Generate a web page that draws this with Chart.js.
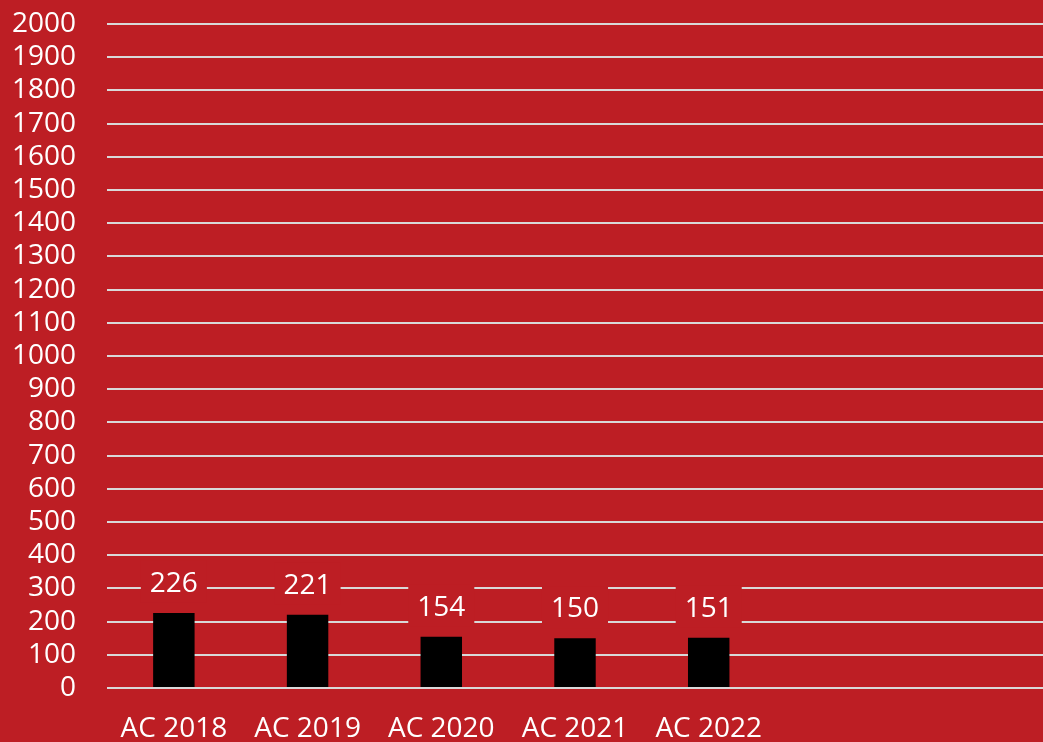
<!DOCTYPE html>
<html>
<head>
<meta charset="utf-8">
<script src="https://cdn.jsdelivr.net/npm/chart.js@4"></script>
<style>
  html, body { margin: 0; padding: 0; background: #bd1e24; }
  #wrap { width: 1043px; height: 742px; position: relative; }
</style>
</head>
<body>
<div id="wrap"><canvas id="chart"></canvas></div>
<script>
// chart data (two trailing empty slots, the original axis has room for 7)
const categories = ["AC 2018", "AC 2019", "AC 2020", "AC 2021", "AC 2022", "", ""];
const values = [226, 221, 154, 150, 151, null, null];
const yMin = 0;
const yMax = 2000;
const yStep = 100;

const bgRed = "#bd1e24";
const fontFamily = "'Open Sans', 'Liberation Sans', sans-serif";

// paint the whole canvas red before anything else
const redBackground = {
  id: "redBackground",
  beforeDraw(chart) {
    const ctx = chart.ctx;
    ctx.save();
    ctx.fillStyle = bgRed;
    ctx.fillRect(0, 0, chart.width, chart.height);
    ctx.restore();
  }
};

// value labels above the bars, on a red box that knocks out the gridlines
const valueLabels = {
  id: "valueLabels",
  afterDatasetsDraw(chart) {
    const ctx = chart.ctx;
    const meta = chart.getDatasetMeta(0);
    ctx.save();
    ctx.font = "28px " + fontFamily;
    ctx.textAlign = "center";
    ctx.textBaseline = "middle";
    meta.data.forEach((bar, i) => {
      const v = values[i];
      if (v == null) return;
      const txt = String(v);
      const cy = bar.y - 30;
      const w = ctx.measureText(txt).width + 18;
      ctx.fillStyle = bgRed;
      ctx.fillRect(bar.x - w / 2, cy - 22, w, 42);
      ctx.fillStyle = "#ffffff";
      ctx.fillText(txt, bar.x, cy + 1);
    });
    ctx.restore();
  }
};

new Chart(document.getElementById("chart"), {
  type: "bar",
  data: {
    labels: categories,
    datasets: [{
      data: values,
      backgroundColor: "#000000",
      borderWidth: 0,
      categoryPercentage: 1,
      barPercentage: 0.31
    }]
  },
  options: {
    responsive: true,
    maintainAspectRatio: false,
    animation: false,
    layout: { padding: { left: 12, top: 24, right: 0, bottom: 0 } },
    plugins: {
      legend: { display: false },
      tooltip: { enabled: false }
    },
    scales: {
      x: {
        grid: { display: false, drawTicks: false },
        border: { display: false },
        afterFit: (scale) => { scale.height = 54; },
        ticks: {
          color: "#ffffff",
          font: { family: fontFamily, size: 28, lineHeight: 1 },
          padding: 27,
          maxRotation: 0,
          autoSkip: false
        }
      },
      y: {
        min: yMin,
        max: yMax,
        grid: { color: "#d9d9d9", lineWidth: 2, drawTicks: false },
        border: { display: false },
        afterFit: (scale) => {
          scale.width = 95;
          scale.paddingTop = 0;
          scale.paddingBottom = 0;
        },
        ticks: {
          stepSize: yStep,
          autoSkip: false,
          color: "#ffffff",
          font: { family: fontFamily, size: 28, lineHeight: 1 },
          padding: 31,
          callback: (v) => String(v)
        }
      }
    }
  },
  plugins: [redBackground, valueLabels]
});
</script>
</body>
</html>
